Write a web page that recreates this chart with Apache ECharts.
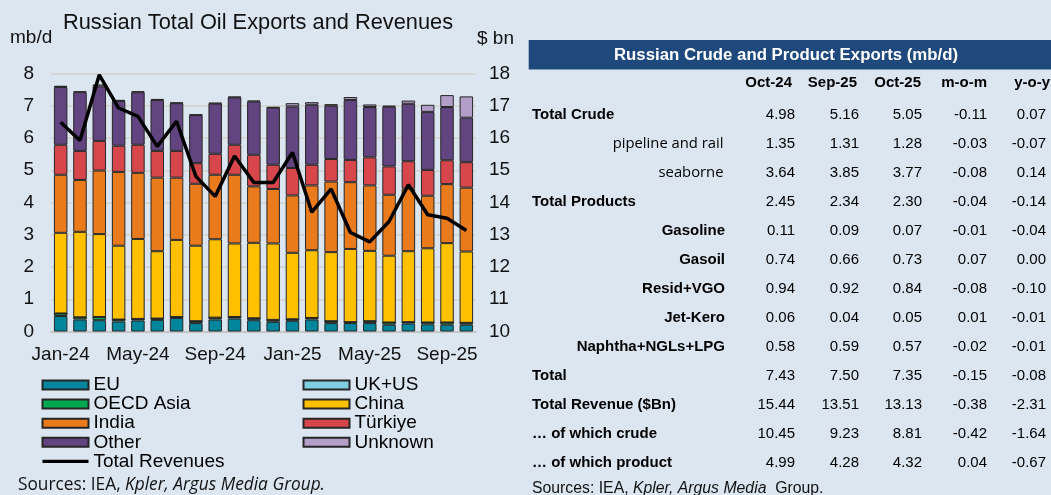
<!DOCTYPE html>
<html>
<head>
<meta charset="utf-8">
<script src="https://cdn.jsdelivr.net/npm/echarts@6/dist/echarts.min.js"></script>
<style>
html,body{margin:0;padding:0;background:#dce6f1;}
#c{width:1051px;height:495px;}
</style>
</head>
<body>
<div id="c"></div>
<script>
// ---------- Chart data ----------
const months = ['Jan-24','Feb-24','Mar-24','Apr-24','May-24','Jun-24','Jul-24','Aug-24','Sep-24','Oct-24','Nov-24','Dec-24',
                'Jan-25','Feb-25','Mar-25','Apr-25','May-25','Jun-25','Jul-25','Aug-25','Sep-25','Oct-25'];
const EU        = [0.48,0.37,0.35,0.31,0.34,0.36,0.42,0.26,0.37,0.40,0.35,0.30,0.33,0.37,0.26,0.26,0.26,0.21,0.25,0.22,0.21,0.21];
const UKUS      = [0,0,0,0,0,0,0,0,0,0,0,0,0,0,0,0,0,0,0,0,0,0];
const OECDAsia  = [0.08,0.07,0.10,0.06,0.05,0.04,0.03,0.06,0.06,0.05,0.06,0.06,0.05,0.05,0.06,0.03,0.06,0.07,0.04,0.06,0.07,0.06];
const China     = [2.50,2.65,2.57,2.29,2.48,2.09,2.39,2.34,2.43,2.28,2.34,2.37,2.06,2.10,2.14,2.27,2.18,2.07,2.20,2.30,2.46,2.21];
const India     = [1.80,1.61,1.97,2.29,2.05,2.28,1.93,1.92,2.00,2.13,1.75,1.69,1.78,2.01,2.19,2.07,2.03,1.89,1.94,1.63,1.83,1.98];
const Turkiye   = [0.93,0.90,0.92,0.81,0.87,0.83,0.83,0.64,0.65,0.93,0.98,0.75,0.85,0.64,0.70,0.69,0.87,0.88,0.85,0.80,0.74,0.79];
const Other     = [1.79,1.82,1.69,1.39,1.63,1.58,1.48,1.49,1.56,1.47,1.65,1.77,1.91,1.86,1.65,1.86,1.56,1.85,1.78,1.80,1.65,1.38];
const Unknown   = [0.04,0.03,0.06,0.03,0.03,0.03,0.02,0.02,0.02,0.02,0.03,0.02,0.10,0.08,0.05,0.09,0.08,0.03,0.10,0.22,0.37,0.66];
const Revenues  = [16.49,15.92,17.96,16.93,16.67,15.74,16.52,14.81,14.19,15.44,14.62,14.62,15.55,13.70,14.42,13.07,12.78,13.41,14.55,13.62,13.51,13.13];

// ---------- Table data ----------
const tableTitle = 'Russian Crude and Product Exports (mb/d)';
const tableCols  = ['Oct-24','Sep-25','Oct-25','m-o-m','y-o-y'];
const rowLabels  = ['Total Crude','pipeline and rail','seaborne','Total Products','Gasoline','Gasoil','Resid+VGO','Jet-Kero',
                    'Naphtha+NGLs+LPG','Total','Total Revenue ($Bn)','\u2026 of which crude','\u2026 of which product'];
const colOct24 = ['4.98','1.35','3.64','2.45','0.11','0.74','0.94','0.06','0.58','7.43','15.44','10.45','4.99'];
const colSep25 = ['5.16','1.31','3.85','2.34','0.09','0.66','0.92','0.04','0.59','7.50','13.51','9.23','4.28'];
const colOct25 = ['5.05','1.28','3.77','2.30','0.07','0.73','0.84','0.05','0.57','7.35','13.13','8.81','4.32'];
const colMoM   = ['-0.11','-0.03','-0.08','-0.04','-0.01','0.07','-0.08','0.01','-0.02','-0.15','-0.38','-0.42','0.04'];
const colYoY   = ['0.07','-0.07','0.14','-0.14','-0.04','0.00','-0.10','-0.01','-0.01','-0.08','-2.31','-1.64','-0.67'];

// ---------- Layout / style (not data) ----------
const rowKind = ['bl','lr','lr','bl','br','br','br','br','br','bl','bl','bl','bl'];
const colRight = [795, 859, 922, 987, 1046];
const headRight = [792, 857, 921, 987, 1050];
const FONT = 'Liberation Sans, Arial, sans-serif';

const chart = echarts.init(document.getElementById('c'), null, {renderer:'canvas'});

const BORDER = '#262626';
function barSeries(name, data, color) {
  return {
    name, type:'bar', stack:'total', data, barWidth:13.5,
    itemStyle:{color, borderColor:BORDER, borderWidth:1},
    emphasis:{disabled:true}, animation:false
  };
}

const graphics = [];
graphics.push({type:'text', style:{x:63, y:23, text:'Russian Total Oil Exports and Revenues', font:'21.8px '+FONT, fill:'#111', textVerticalAlign:'middle'}});
graphics.push({type:'text', style:{x:10, y:38, text:'mb/d', font:'19px '+FONT, fill:'#111', textVerticalAlign:'middle'}});
graphics.push({type:'text', style:{x:477, y:39, text:'$ bn', font:'19px '+FONT, fill:'#111', textVerticalAlign:'middle'}});
graphics.push({type:'text', style:{x:18, y:485, text:'{a|Sources: IEA, }{b|Kpler, Argus Media Group.}', textVerticalAlign:'middle',
  rich:{a:{fontFamily:'Open Sans', fontSize:17.3, fill:'#111'}, b:{fontFamily:'Open Sans', fontSize:17.3, fontStyle:'italic', fill:'#111'}}}});

graphics.push({type:'rect', shape:{x:528.7, y:40, width:523, height:29.5}, style:{fill:'#1f497d'}});
graphics.push({type:'text', style:{x:786, y:55, text:tableTitle, font:'bold 16.8px '+FONT, fill:'#ffffff', textAlign:'center', textVerticalAlign:'middle'}});
tableCols.forEach((c,i)=>{
  graphics.push({type:'text', style:{x:headRight[i], y:83, text:c, font:'bold 15px '+FONT, fill:'#000', textAlign:'right', textVerticalAlign:'middle'}});
});
const cols = [colOct24, colSep25, colOct25, colMoM, colYoY];
rowLabels.forEach((lab, r)=>{
  const y = 115 + r*29.02;
  const k = rowKind[r];
  if (k==='bl') graphics.push({type:'text', style:{x:532, y, text:lab, font:'bold 15px '+FONT, fill:'#000', textVerticalAlign:'middle'}});
  else if (k==='br') graphics.push({type:'text', style:{x:725, y, text:lab, font:'bold 15px '+FONT, fill:'#000', textAlign:'right', textVerticalAlign:'middle'}});
  else graphics.push({type:'text', style:{x:723.5, y, text:lab, font:'14.8px Open Sans', fill:'#000', textAlign:'right', textVerticalAlign:'middle'}});
  cols.forEach((col,ci)=>{
    graphics.push({type:'text', style:{x:colRight[ci], y, text:col[r], font:'15px '+FONT, fill:'#000', textAlign:'right', textVerticalAlign:'middle'}});
  });
});
graphics.push({type:'text', style:{x:532, y:489, text:'{a|Sources: IEA, }{b|Kpler, Argus Media}{a|  Group.}', textVerticalAlign:'middle',
  rich:{a:{fontFamily:FONT, fontSize:15.8, fill:'#111'}, b:{fontFamily:FONT, fontSize:15.8, fontStyle:'italic', fill:'#111'}}}});

const legendText = {fontFamily:FONT, fontSize:19, color:'#000', lineHeight:19};
const lineIcon = 'path://M0,0 L46,0 L46,3.4 L0,3.4 Z';

const option = {
  backgroundColor:'#dce6f1',
  animation:false,
  grid:{left:51, right:575, top:73.5, bottom:163.5},
  legend:[
    {orient:'vertical', left:41.5, top:375.5, padding:0, icon:'rect', itemWidth:46, itemHeight:9, itemGap:0.1, selectedMode:false,
     textStyle:legendText,
     data:['EU','OECD Asia','India','Other',{name:'Total Revenues', icon:lineIcon, itemStyle:{color:'#000', borderWidth:0}}]},
    {orient:'vertical', left:302.5, top:375.5, padding:0, icon:'rect', itemWidth:46, itemHeight:9, itemGap:0.1, selectedMode:false,
     textStyle:legendText, data:['UK+US','China','Türkiye','Unknown']}
  ],
  xAxis:{
    type:'category', data:months, boundaryGap:true,
    axisLine:{lineStyle:{color:'#bfbfbf', width:1.5}},
    axisTick:{interval:3, length:5, lineStyle:{color:'#bfbfbf', width:1.5}},
    axisLabel:{interval:3, fontFamily:FONT, fontSize:19, color:'#111', margin:14}
  },
  yAxis:[
    {type:'value', min:0, max:8, interval:1, position:'left',
     axisLine:{show:false}, axisTick:{show:false},
     axisLabel:{fontFamily:FONT, fontSize:19, color:'#111', margin:17},
     splitLine:{lineStyle:{color:'#d6d3cd', width:1.5}}},
    {type:'value', min:10, max:18, interval:1, position:'right',
     axisLine:{show:false}, axisTick:{show:false},
     axisLabel:{fontFamily:FONT, fontSize:19, color:'#111', margin:13},
     splitLine:{show:false}}
  ],
  series:[
    barSeries('EU', EU, '#00869c'),
    barSeries('OECD Asia', OECDAsia, '#00a94f'),
    barSeries('UK+US', UKUS, '#80cee1'),
    barSeries('China', China, '#ffc000'),
    barSeries('India', India, '#e97b1d'),
    barSeries('Türkiye', Turkiye, '#d6464b'),
    barSeries('Other', Other, '#614480'),
    barSeries('Unknown', Unknown, '#b39ec9'),
    {name:'Total Revenues', type:'line', yAxisIndex:1, data:Revenues, symbol:'none',
     lineStyle:{color:'#000', width:3.5}, itemStyle:{color:'#000'}, emphasis:{disabled:true}, z:5}
  ],
  graphic:graphics
};
chart.setOption(option);
</script>
</body>
</html>
